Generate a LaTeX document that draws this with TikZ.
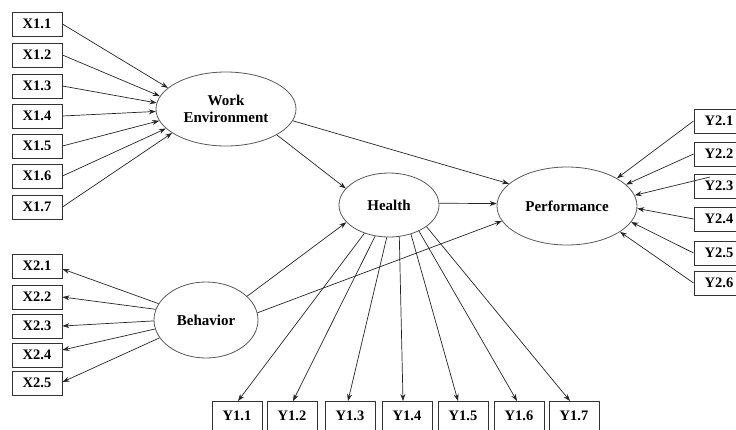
\documentclass[tikz,border=0pt]{standalone}
\usepackage{fontspec}
\setmainfont{Liberation Serif}
\usetikzlibrary{shapes.geometric,arrows.meta}
\begin{document}
\begin{tikzpicture}[x=1pt,y=-1pt,
  ind/.style={draw=black!80,line width=0.9pt,minimum width=50pt,minimum height=24pt,inner sep=0pt,font=\fontsize{14.5}{17}\selectfont\bfseries},
  lat/.style={ellipse,draw=black!65,line width=0.8pt,inner sep=0pt,font=\fontsize{15}{17}\selectfont\bfseries,align=center},
  arr/.style={draw=black!85,line width=0.7pt,-{Stealth[length=7pt,width=5pt]}}]
\useasboundingbox (0,0) rectangle (736,429);
\fill[white] (0,0) rectangle (736,429);

% latent variables
\node[lat,minimum width=140pt,minimum height=74pt] (we) at (226,109) {Work\\Environment};
\node[lat,minimum width=100pt,minimum height=64pt] (h) at (389,205) {Health};
\node[lat,minimum width=104pt,minimum height=76pt] (b) at (206,320) {Behavior};
\node[lat,minimum width=140pt,minimum height=78pt] (p) at (567,206) {Performance};

% X1 indicators
\foreach \i/\y/\a in {1/24/160,2/55/169,3/86/175,4/116/182,5/146/190,6/176/198,7/207/204}{
  \node[ind] (x1\i) at (37,\y) {X1.\i};
  \draw[arr] (x1\i.east) -- (we.\a);
}
% X2 indicators
\foreach \i/\y/\a/\s in {1/266/161/-3,2/297/168/0,3/326/181/0,4/355/190/5,5/383/201/1}{
  \node[ind] (x2\i) at (37,\y) {X2.\i};
  \draw[arr] (b.\a) -- ([yshift=\s pt]x2\i.east);
}
% Y1 indicators
\foreach \i/\x/\a/\s in {1/237/229/1,2/292/246/1,3/350/266/-2,4/407/288/-4,5/463/307/-5,6/519/319/-2,7/574/330/-4}{
  \node[ind,anchor=north,minimum height=30pt] (y1\i) at (\x,401) {\raisebox{2pt}{Y1.\i}};
  \draw[arr] (h.\a) -- ([xshift=\s pt]y1\i.north);
}
% Y2 indicators
\foreach \i/\y in {1/121,2/154,3/186,4/219,5/253,6/283}{
  \node[ind] (y2\i) at (719,\y) {Y2.\i};
}
\coordinate (y23s) at (710,177);
\foreach \i/\a in {1/29,2/20,4/-2,5/-14,6/-26}{
  \draw[arr] (y2\i.west) -- (p.\a);
}
\draw[arr] (y23s) -- (p.9);

% structural paths
\draw[arr] (we.-27) -- (h.159);
\draw[arr] (we.-10) -- (p.159);
\draw[arr] (b.30) -- (h.202);
\draw[arr] (b.8) -- (p.193);
\draw[arr] (h.2) -- (p.178);
\end{tikzpicture}
\end{document}
